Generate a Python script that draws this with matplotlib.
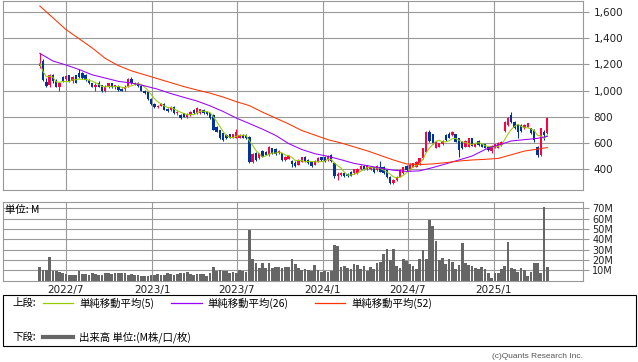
import matplotlib.pyplot as plt
import matplotlib.dates as mdates
from matplotlib.lines import Line2D
from matplotlib.patches import Rectangle
import numpy as np
import pandas as pd

# weekly candles, 2022/5 - 2025/4
dates = pd.date_range("2022-05-06", periods=156, freq="7D")

opens = [1187, 1225, 1067, 1040, 1115, 1075, 1025, 1100, 1085, 1115, 1070, 1115, 1130, 1130, 1115, 1080,
         1055, 1030, 1060, 1040, 1000, 1025, 1055, 1025, 1035, 1010, 1010, 1030, 1090, 1050, 1060, 1035,
         1000, 985, 935, 900, 875, 885, 900, 860, 850, 875, 826, 813, 826, 795, 813, 852,
         826, 826, 852, 835, 826, 813, 724, 699, 674, 661, 666, 640, 640, 640, 661, 661,
         648, 457, 521, 483, 539, 534, 508, 559, 554, 521, 521, 470, 480, 465, 450, 432,
         457, 490, 470, 457, 432, 457, 490, 495, 470, 505, 450, 345, 355, 372, 365, 380,
         368, 370, 400, 424, 400, 399, 415, 393, 420, 420, 393, 343, 292, 317, 343, 368,
         424, 400, 419, 419, 432, 483, 533, 686, 666, 564, 572, 589, 661, 672, 661, 666,
         635, 605, 572, 572, 635, 572, 615, 589, 589, 572, 538, 564, 564, 584, 691, 737,
         813, 762, 742, 737, 711, 724, 711, 699, 572, 508, 686, 673]
highs = [1284, 1240, 1093, 1125, 1126, 1085, 1065, 1110, 1115, 1120, 1110, 1120, 1165, 1140, 1125, 1085,
         1060, 1060, 1070, 1045, 1040, 1060, 1060, 1045, 1040, 1020, 1040, 1095, 1100, 1065, 1065, 1040,
         1005, 990, 940, 905, 890, 905, 905, 865, 880, 880, 845, 818, 830, 825, 845, 856,
         875, 862, 858, 840, 830, 818, 728, 702, 678, 665, 670, 670, 705, 665, 665, 665,
         652, 520, 530, 525, 545, 540, 580, 565, 560, 545, 525, 500, 508, 470, 460, 475,
         495, 498, 475, 462, 470, 490, 495, 500, 505, 515, 455, 375, 380, 378, 370, 385,
         402, 410, 430, 430, 432, 425, 420, 428, 460, 425, 395, 345, 325, 350, 400, 420,
         430, 445, 450, 462, 488, 565, 690, 699, 672, 615, 602, 625, 672, 680, 692, 672,
         640, 612, 620, 640, 640, 602, 620, 594, 594, 578, 584, 594, 605, 615, 770, 795,
         839, 770, 748, 742, 742, 755, 716, 705, 578, 716, 700, 800]
lows = [1169, 1075, 1029, 1030, 1060, 1025, 1000, 1065, 1080, 1065, 1060, 1055, 1095, 1085, 1075, 1050,
        1025, 1000, 1025, 990, 990, 1020, 1020, 1010, 1000, 995, 1000, 1025, 1050, 1040, 1030, 995,
        975, 930, 890, 870, 865, 880, 850, 835, 845, 820, 815, 785, 795, 790, 808, 822,
        820, 820, 822, 815, 785, 695, 680, 630, 615, 630, 635, 635, 635, 635, 636, 630,
        450, 445, 465, 478, 490, 505, 500, 515, 508, 515, 465, 465, 475, 420, 415, 428,
        452, 455, 440, 419, 428, 452, 465, 455, 465, 455, 335, 320, 345, 340, 340, 345,
        362, 365, 395, 395, 395, 392, 370, 388, 375, 365, 330, 285, 285, 310, 338, 365,
        388, 395, 414, 414, 428, 478, 528, 608, 590, 558, 566, 584, 615, 635, 655, 605,
        495, 555, 568, 566, 575, 566, 580, 568, 560, 540, 525, 558, 560, 578, 685, 730,
        750, 710, 635, 684, 705, 718, 668, 610, 495, 500, 620, 668]
closes = [1207, 1080, 1034, 1118, 1070, 1030, 1060, 1070, 1110, 1070, 1100, 1060, 1100, 1093, 1080, 1055,
          1030, 1045, 1030, 1000, 1030, 1055, 1025, 1040, 1005, 1000, 1030, 1085, 1055, 1060, 1035, 1000,
          980, 935, 900, 875, 885, 895, 855, 845, 875, 826, 835, 790, 801, 820, 839, 826,
          864, 857, 826, 820, 790, 700, 686, 635, 623, 635, 640, 666, 686, 661, 640, 635,
          457, 513, 470, 521, 496, 508, 572, 521, 513, 539, 470, 496, 500, 440, 425, 470,
          490, 460, 445, 425, 465, 482, 470, 460, 500, 460, 345, 365, 370, 345, 345, 350,
          398, 405, 424, 400, 430, 418, 375, 423, 380, 370, 343, 295, 317, 343, 393, 415,
          393, 432, 445, 457, 483, 559, 686, 615, 597, 610, 597, 615, 622, 640, 686, 610,
          546, 560, 615, 635, 580, 597, 584, 572, 564, 546, 579, 589, 597, 610, 762, 788,
          757, 716, 686, 690, 737, 750, 673, 622, 508, 711, 661, 793]

# volume, millions of shares
volume = [13, 10, 10.5, 23, 9, 9.5, 8, 7.5, 6, 5.5, 5, 5.5, 9.5, 6, 6, 5.5,
          7, 6.5, 5, 5.5, 7.5, 7, 6, 7.5, 7.5, 7, 7, 5.5, 6, 5, 5, 4.5,
          4.5, 4.5, 5, 5, 6, 5.5, 5, 7.5, 6.5, 5, 6, 7, 7.5, 8, 6, 5.5,
          6, 6, 6.5, 4.5, 7, 13, 9.5, 10, 9, 9, 7, 8.5, 7, 10, 9, 8,
          49, 21, 17, 12.5, 17, 12, 17, 12.5, 13, 13, 12, 13.5, 13, 20.5, 16, 12,
          10, 11, 10, 9, 15, 10, 8.6, 9, 8, 9, 34, 33, 13, 14, 12, 11,
          16, 15, 11, 14, 9, 13, 11, 17, 18, 26, 31, 20, 31, 14, 12, 21,
          19, 16, 14, 11, 21, 30, 21, 59, 53, 38, 20, 22, 16, 21, 18, 11,
          15, 36, 17, 15, 14, 12, 11, 13, 11, 7, 2, 7, 7, 11, 14, 37,
          12, 11, 8, 12, 10, 4, 8, 17, 17, 7, 71, 13]

# 26 / 52 week moving averages (week index -> value)
ma_weeks = [0, 4, 8, 12, 16, 20, 24, 28, 32, 36, 40, 44, 48, 52, 56, 60, 64, 68, 72, 76,
            80, 84, 88, 92, 96, 100, 104, 108, 112, 116, 120, 124, 128, 132, 136, 140, 144, 148, 152, 155]
ma26 = [1284, 1225, 1195, 1160, 1120, 1095, 1070, 1057, 1036, 1010, 977, 948, 920, 883, 840, 790, 748, 705, 658, 595,
        550, 518, 498, 472, 444, 427, 408, 392, 383, 387, 412, 440, 470, 500, 550, 585, 615, 625, 635, 650]
ma52 = [1645, 1555, 1465, 1395, 1325, 1245, 1190, 1150, 1120, 1090, 1060, 1030, 1004, 980, 950, 915, 885, 835, 790, 745,
        695, 660, 625, 600, 570, 540, 505, 470, 440, 435, 440, 450, 462, 470, 475, 482, 510, 538, 553, 565]

tick_dates = ["2022-07-01", "2023-01-01", "2023-07-01", "2024-01-01", "2024-07-01", "2025-01-01"]
tick_labels = ["2022/7", "2023/1", "2023/7", "2024/1", "2024/7", "2025/1"]
price_ticks = [400, 600, 800, 1000, 1200, 1400, 1600]
vol_ticks = [10, 20, 30, 40, 50, 60, 70]

UP, DOWN = "#ff0040", "#003399"
C5, C26, C52 = "#99cc00", "#9900ff", "#ff3300"
GRID = "#999999"
CJK = ["Noto Sans CJK JP", "DejaVu Sans"]

W, H = 638, 362
fig = plt.figure(figsize=(W / 100, H / 100), dpi=100)

def box(l, t, r, b):
    return [l / W, 1 - b / H, (r - l) / W, (b - t) / H]

def fx(x):
    return x / W

def fy(y):
    return 1 - y / H

ax = fig.add_axes(box(3, 1, 582.5, 190))
axv = fig.add_axes(box(3, 201.7, 582.5, 280.5))

x = mdates.date2num(dates)
o, h, l, c = map(np.array, (opens, highs, lows, closes))
cols = np.where(c >= o, UP, DOWN)

ax.vlines(x, l, h, colors=cols, lw=0.75, zorder=2)
ax.bar(x, np.maximum(np.abs(c - o), 3), bottom=np.minimum(o, c), width=5,
       color=cols, lw=0, zorder=2)

ma5 = pd.Series(closes).rolling(5, min_periods=1).mean()
ax.plot(x, ma5, color=C5, lw=0.75, zorder=3)
ax.plot(x[ma_weeks], ma26, color=C26, lw=0.75, zorder=3)
ax.plot(x[ma_weeks], ma52, color=C52, lw=0.75, zorder=3)

axv.bar(x, volume, width=5.8, color="#666666", lw=0, zorder=2)

# x scale: 2022/7/1 at px 66, 2025/1/1 at px 494
x0 = mdates.date2num(pd.Timestamp("2022-07-01"))
ppd = 428 / (mdates.date2num(pd.Timestamp("2025-01-01")) - x0)
xlim = (x0 - 63 / ppd, x0 + 516.5 / ppd)
tx = mdates.date2num(pd.to_datetime(tick_dates))

for a in (ax, axv):
    a.set_xlim(*xlim)
    a.set_xticks(tx)
    a.grid(True, color=GRID, lw=0.8, zorder=0)
    a.set_axisbelow(True)
    for s in a.spines.values():
        s.set_color(GRID)
        s.set_linewidth(0.8)
    a.yaxis.tick_right()
    a.tick_params(axis="y", length=4, color=GRID, labelsize=7.5, pad=4, labelcolor="#222222")
    a.tick_params(axis="x", length=0, labelsize=7.5, labelcolor="#222222", pad=3)

ax.set_ylim(241, 1683)
ax.set_yticks(price_ticks)
ax.set_yticklabels([f"{p:,}" for p in price_ticks])
ax.set_xticklabels([])

axv.set_ylim(0, 76.4)
axv.set_yticks(vol_ticks)
axv.set_yticklabels([f"{v}M" for v in vol_ticks], fontsize=7)
axv.set_xticklabels(tick_labels)
axv.tick_params(axis="y", pad=3)

fig.text(fx(5), fy(210), "単位: M", family=CJK, fontsize=7.5, va="center", ha="left")

# legend box
fig.add_artist(Rectangle((fx(3), fy(346)), (635.7 - 3) / W, (346 - 295.3) / H,
                         transform=fig.transFigure, fill=False, edgecolor="black", lw=0.8))
row1, row2 = 303, 337
fig.text(fx(12), fy(row1), "上段:", family=CJK, fontsize=7.5, va="center")
for x1, x2, col, tx_x, lab in [(43, 73, C5, 79, "単純移動平均(5)"),
                               (171, 202, C26, 207, "単純移動平均(26)"),
                               (315, 345, C52, 351, "単純移動平均(52)")]:
    fig.add_artist(Line2D([fx(x1), fx(x2)], [fy(row1), fy(row1)], color=col, lw=0.9,
                          transform=fig.transFigure))
    fig.text(fx(tx_x), fy(row1), lab, family=CJK, fontsize=7.5, va="center")
fig.text(fx(12), fy(row2), "下段:", family=CJK, fontsize=7.5, va="center")
fig.add_artist(Line2D([fx(43), fx(73)], [fy(row2), fy(row2)], color="#666666", lw=3,
                      transform=fig.transFigure))
fig.text(fx(79), fy(row2), "出来高 単位:(M株/口/枚)", family=CJK, fontsize=7.5, va="center")

fig.text(fx(582.7), fy(357), "(c)Quants Research Inc.", family=["Liberation Sans"],
         fontsize=6, color="#555555", ha="right", va="center")

fig.savefig("out.png", dpi=100)
